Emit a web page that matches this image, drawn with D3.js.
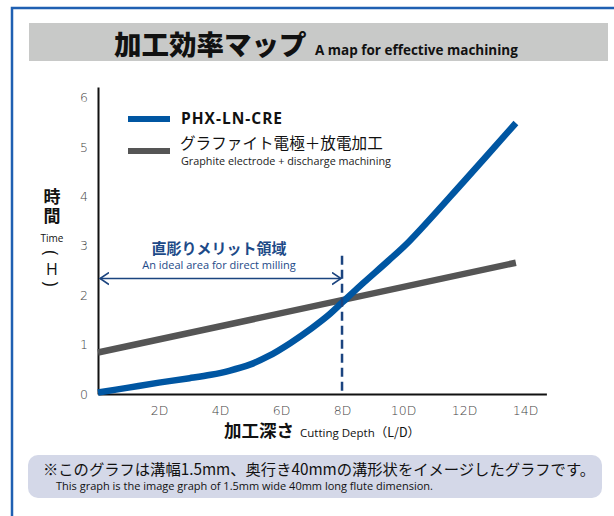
<!DOCTYPE html>
<html>
<head>
<meta charset="utf-8">
<script src="https://cdn.jsdelivr.net/npm/d3@7"></script>
<style>
  body { margin: 0; background: #fff; }
  svg { display: block; }
  .jp { font-family: "Noto Sans CJK JP", "Noto Sans", sans-serif; }
  .en { font-family: "Open Sans", "Noto Sans", sans-serif; }
</style>
</head>
<body>
<div id="chart-area"></div>
<script>
// values
const depthTicks = [2, 4, 6, 8, 10, 12, 14]
const timeTicks = [0, 1, 2, 3, 4, 5, 6]

const phxDepth = [0, 1, 2, 3, 3.7, 4.3, 5, 5.6, 6.3, 7, 7.6, 8, 8.7, 9.5, 10.2, 12, 13.7]
const phxTime  = [0.03, 0.13, 0.23, 0.32, 0.39, 0.47, 0.6, 0.77, 1.03, 1.33, 1.62, 1.85, 2.25, 2.69, 3.09, 4.31, 5.49]

const graphiteDepth = [0, 13.7]
const graphiteTime  = [0.84, 2.66]

const idealLimit = 8      // 8D
const arrowTime = 2.34
const dashTop = 2.8

const w = 614
const h = 516

const svg = d3.select("#chart-area")
  .append("svg")
  .attr("width", w)
  .attr("height", h)

// frame + title banner
svg.append("rect")
  .attr("x", 12).attr("y", 8)
  .attr("width", 700).attr("height", 600)
  .attr("fill", "none")
  .attr("stroke", "#1f60b2")
  .attr("stroke-width", 2.5)

svg.append("rect")
  .attr("x", 29).attr("y", 23)
  .attr("width", 579).attr("height", 38)
  .attr("fill", "#c8c9c8")

svg.append("text")
  .attr("class", "jp")
  .attr("x", 114).attr("y", 55)
  .attr("font-size", 27.5)
  .attr("font-weight", 900)
  .attr("fill", "#111")
  .text("加工効率マップ")
svg.append("text")
  .attr("class", "en")
  .attr("x", 315).attr("y", 55)
  .attr("font-size", 13.5)
  .attr("font-weight", 700)
  .attr("fill", "#111")
  .text("A map for effective machining")

// scales
const x = d3.scaleLinear().domain([0, 14.7]).range([98, 546.4])
const y = d3.scaleLinear().domain([0, 6.22]).range([394, 87])

const xAxis = d3.axisBottom(x).tickValues(depthTicks).tickSize(0).tickPadding(12)
  .tickFormat(d => d + "D")
const yAxis = d3.axisLeft(y).tickValues(timeTicks).tickSize(0).tickPadding(10)
  .tickFormat(d3.format("d"))

const gx = svg.append("g")
  .attr("transform", "translate(0," + y(0) + ")")
  .call(xAxis)
const gy = svg.append("g")
  .attr("transform", "translate(" + x(0) + ",0)")
  .call(yAxis)

;[gx, gy].forEach(g => {
  g.select(".domain").attr("stroke", "#111").attr("stroke-width", 2)
  g.selectAll("text")
    .attr("font-family", "DejaVu Sans, sans-serif")
    .attr("font-weight", 200)
    .attr("font-size", 12.5)
    .attr("fill", "#444")
})

// lines
const line = d3.line()
  .x(d => x(d[0]))
  .y(d => y(d[1]))

svg.append("path")
  .datum(graphiteDepth.map((d, i) => [d, graphiteTime[i]]))
  .attr("d", line)
  .attr("fill", "none")
  .attr("stroke", "#555555")
  .attr("stroke-width", 6.5)

svg.append("path")
  .datum(phxDepth.map((d, i) => [d, phxTime[i]]))
  .attr("d", line.curve(d3.curveCatmullRom.alpha(0.5)))
  .attr("fill", "none")
  .attr("stroke", "#0056a2")
  .attr("stroke-width", 6.5)

// ideal area marker
svg.append("line")
  .attr("x1", x(idealLimit)).attr("x2", x(idealLimit))
  .attr("y1", y(dashTop)).attr("y2", y(0))
  .attr("stroke", "#1b447f")
  .attr("stroke-width", 2.5)
  .attr("stroke-dasharray", "9,5")

const defs = svg.append("defs")
defs.append("marker")
  .attr("id", "chev")
  .attr("viewBox", "0 0 10 14")
  .attr("refX", 9).attr("refY", 7)
  .attr("markerWidth", 10).attr("markerHeight", 14)
  .attr("markerUnits", "userSpaceOnUse")
  .attr("orient", "auto-start-reverse")
  .append("path")
  .attr("d", "M0,1 L9,7 L0,13")
  .attr("fill", "none")
  .attr("stroke", "#1b447f")
  .attr("stroke-width", 1.6)

svg.append("line")
  .attr("x1", x(0) + 2).attr("x2", x(idealLimit) - 1)
  .attr("y1", y(arrowTime)).attr("y2", y(arrowTime))
  .attr("stroke", "#1b447f")
  .attr("stroke-width", 1.6)
  .attr("marker-start", "url(#chev)")
  .attr("marker-end", "url(#chev)")

svg.append("text")
  .attr("class", "jp")
  .attr("x", 219).attr("y", 254)
  .attr("text-anchor", "middle")
  .attr("font-size", 15)
  .attr("font-weight", 700)
  .attr("fill", "#1d4a88")
  .text("直彫りメリット領域")
svg.append("text")
  .attr("class", "en")
  .attr("x", 219).attr("y", 269)
  .attr("text-anchor", "middle")
  .attr("font-size", 11)
  .attr("fill", "#1d4a88")
  .text("An ideal area for direct milling")

// legend
const legend = svg.append("g")
legend.append("rect")
  .attr("x", 128).attr("y", 116).attr("width", 42).attr("height", 6)
  .attr("fill", "#0056a2")
legend.append("rect")
  .attr("x", 128).attr("y", 148).attr("width", 42).attr("height", 6)
  .attr("fill", "#555555")
legend.append("text")
  .attr("class", "en")
  .attr("x", 181).attr("y", 124)
  .attr("font-size", 15.5)
  .attr("font-weight", 700)
  .attr("letter-spacing", 1)
  .attr("fill", "#111")
  .text("PHX-LN-CRE")
legend.append("text")
  .attr("class", "jp")
  .attr("x", 180).attr("y", 149)
  .attr("font-size", 15.6)
  .attr("fill", "#111")
  .text("グラファイト電極＋放電加工")
legend.append("text")
  .attr("class", "en")
  .attr("x", 181).attr("y", 165)
  .attr("font-size", 10.8)
  .attr("fill", "#222")
  .text("Graphite electrode + discharge machining")

// y title (stacked vertically)
svg.append("text")
  .attr("class", "jp")
  .attr("x", 52).attr("y", 188)
  .attr("writing-mode", "tb")
  .attr("font-size", 17)
  .attr("font-weight", 700)
  .attr("letter-spacing", 2)
  .attr("fill", "#111")
  .text("時間")
svg.append("text")
  .attr("class", "en")
  .attr("x", 52).attr("y", 242)
  .attr("text-anchor", "middle")
  .attr("font-size", 10)
  .attr("fill", "#111")
  .text("Time")
const parens = [
  { t: "(", y: 253 },
  { t: ")", y: 284 }
]
svg.selectAll(".paren")
  .data(parens)
  .enter()
  .append("text")
  .attr("class", "paren en")
  .attr("text-anchor", "middle")
  .attr("dominant-baseline", "central")
  .attr("transform", d => "translate(52," + d.y + ") rotate(90)")
  .attr("font-size", 18)
  .attr("fill", "#111")
  .text(d => d.t)
svg.append("text")
  .attr("class", "en")
  .attr("x", 52).attr("y", 275)
  .attr("text-anchor", "middle")
  .attr("font-size", 16)
  .attr("fill", "#111")
  .text("H")

// x title
const xTitle = svg.append("text")
  .attr("x", 322).attr("y", 437)
  .attr("text-anchor", "middle")
  .attr("fill", "#111")
xTitle.append("tspan").attr("class", "jp")
  .attr("font-size", 17.5).attr("font-weight", 700)
  .text("加工深さ")
xTitle.append("tspan").attr("class", "en")
  .attr("dx", 6).attr("font-size", 11.5)
  .text("Cutting Depth")
xTitle.append("tspan").attr("class", "jp")
  .attr("font-size", 12.5)
  .text("（L/D）")

// note
svg.append("rect")
  .attr("x", 28).attr("y", 455)
  .attr("width", 574).attr("height", 43)
  .attr("rx", 10)
  .attr("fill", "#d4d8e8")
svg.append("text")
  .attr("class", "jp")
  .attr("x", 43).attr("y", 475)
  .attr("font-size", 15.3)
  .attr("fill", "#111")
  .text("※このグラフは溝幅1.5mm、奥行き40mmの溝形状をイメージしたグラフです。")
svg.append("text")
  .attr("class", "en")
  .attr("x", 56).attr("y", 490)
  .attr("font-size", 11)
  .attr("fill", "#111")
  .text("This graph is the image graph of 1.5mm wide 40mm long flute dimension.")
</script>
</body>
</html>
